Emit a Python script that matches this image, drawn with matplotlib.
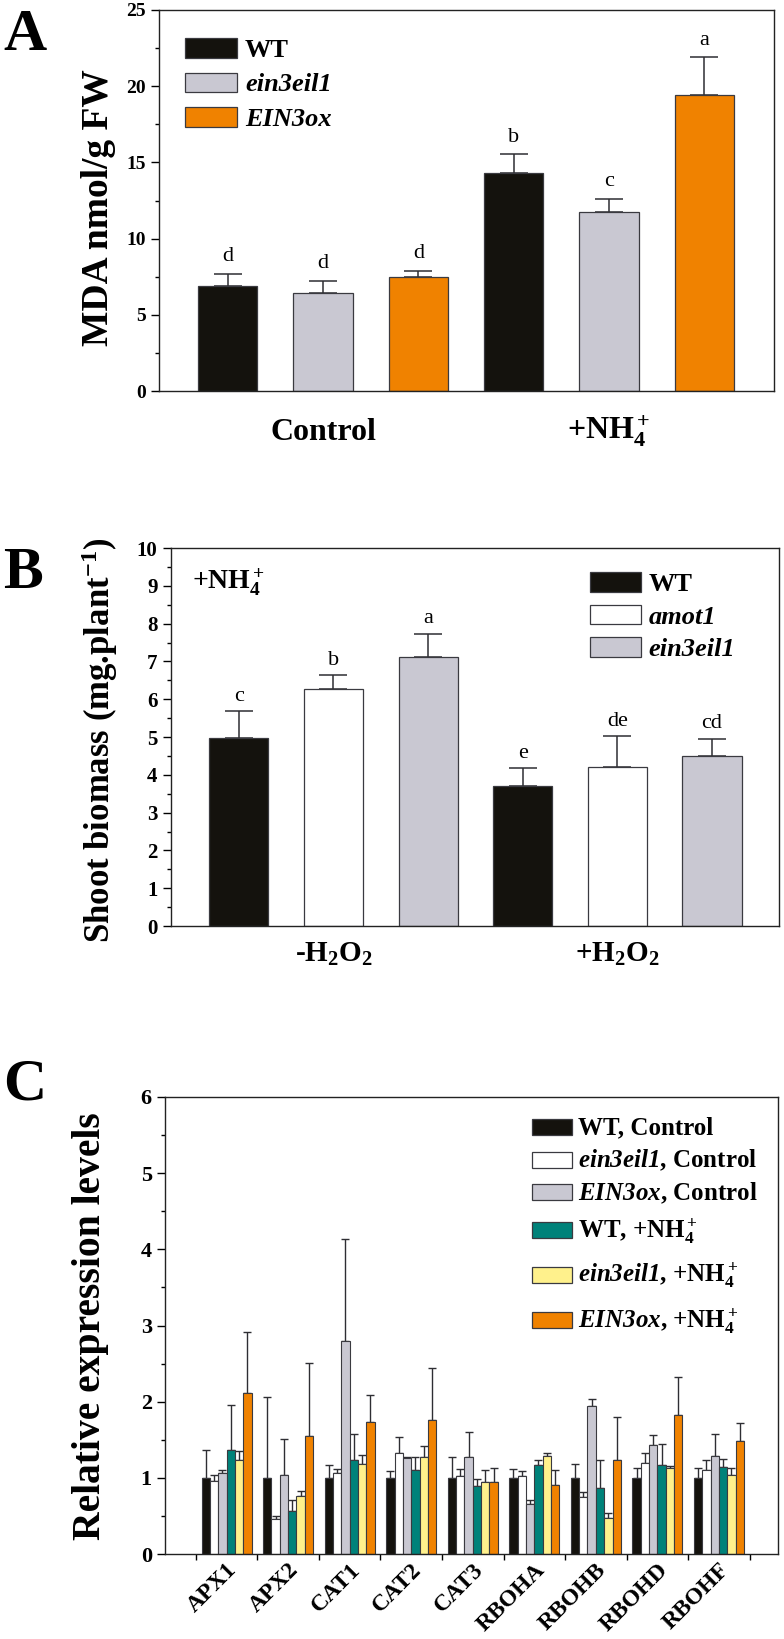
import numpy as np
import matplotlib
matplotlib.use("Agg")
import matplotlib.pyplot as plt
from matplotlib.patches import Patch, Rectangle
from matplotlib.ticker import MultipleLocator

plt.rcParams['font.family'] = ['Liberation Serif', 'DejaVu Serif']
plt.rcParams['font.weight'] = 'bold'
plt.rcParams['mathtext.fontset'] = 'custom'
plt.rcParams['mathtext.rm'] = 'Liberation Serif:bold'
plt.rcParams['mathtext.it'] = 'Liberation Serif:italic:bold'
plt.rcParams['mathtext.bf'] = 'Liberation Serif:bold'
plt.rcParams['mathtext.sf'] = 'Liberation Serif:italic:bold'

# ---------------- data ----------------
# Panel A: MDA content
mda_groups = ['Control', '+NH$_4^+$']
mda_genotypes = ['WT', 'ein3eil1', 'EIN3ox']
mda_mean = [[6.89, 6.45, 7.46], [14.32, 11.72, 19.40]]
mda_err = [[0.79, 0.77, 0.43], [1.21, 0.90, 2.50]]
mda_letters = [['d', 'd', 'd'], ['b', 'c', 'a']]

# Panel B: shoot biomass under +NH4+
bio_groups = ['-H$_2$O$_2$', '+H$_2$O$_2$']
bio_genotypes = ['WT', 'amot1', 'ein3eil1']
bio_mean = [[4.98, 6.27, 7.12], [3.71, 4.21, 4.50]]
bio_err = [[0.70, 0.36, 0.61], [0.46, 0.81, 0.46]]
bio_letters = [['c', 'b', 'a'], ['e', 'de', 'cd']]

# Panel C: relative expression
genes = ['APX1', 'APX2', 'CAT1', 'CAT2', 'CAT3', 'RBOHA', 'RBOHB', 'RBOHD', 'RBOHF']
series_labels = ['WT, Control', r'$\mathsf{ein3eil1}$, Control', r'$\mathsf{EIN3ox}$, Control',
                 'WT, +NH$_4^+$', r'$\mathsf{ein3eil1}$, +NH$_4^+$', r'$\mathsf{EIN3ox}$, +NH$_4^+$']
wt_ctrl      = [1.00, 1.00, 1.00, 1.00, 1.00, 1.00, 1.00, 1.00, 1.00]
ein_ctrl     = [0.96, 0.46, 1.06, 1.32, 1.02, 1.02, 0.75, 1.20, 1.10]
ox_ctrl      = [1.06, 1.04, 2.79, 1.26, 1.28, 0.66, 1.94, 1.43, 1.29]
wt_nh4       = [1.36, 0.57, 1.23, 1.10, 0.89, 1.17, 0.86, 1.17, 1.14]
ein_nh4      = [1.24, 0.76, 1.18, 1.27, 0.95, 1.29, 0.47, 1.13, 1.04]
ox_nh4       = [2.11, 1.55, 1.73, 1.76, 0.94, 0.91, 1.24, 1.83, 1.48]
wt_ctrl_err  = [0.36, 1.06, 0.17, 0.09, 0.28, 0.12, 0.18, 0.13, 0.13]
ein_ctrl_err = [0.08, 0.04, 0.05, 0.21, 0.09, 0.07, 0.07, 0.13, 0.14]
ox_ctrl_err  = [0.04, 0.47, 1.35, 0.02, 0.32, 0.05, 0.10, 0.13, 0.28]
wt_nh4_err   = [0.59, 0.14, 0.34, 0.17, 0.09, 0.07, 0.37, 0.28, 0.11]
ein_nh4_err  = [0.11, 0.07, 0.12, 0.15, 0.15, 0.04, 0.07, 0.02, 0.09]
ox_nh4_err   = [0.80, 0.96, 0.36, 0.68, 0.19, 0.19, 0.56, 0.49, 0.24]

# ---------------- style ----------------
BLACK = '#14120d'
GREY = '#c9c8d2'
ORANGE = '#f08200'
TEAL = '#00827a'
YELLOW = '#fff18c'
WHITE = '#ffffff'
EDGE = '#3a3a40'
ECOL = '#2e2e33'

W, H = 784, 1639
fig = plt.figure(figsize=(W / 100, H / 100), dpi=100)


def px_axes(left, right, top, bottom):
    return fig.add_axes([left / W, 1 - bottom / H, (right - left) / W, (bottom - top) / H])


def style_axes(ax, labelsize, major_len=6, minor_len=3):
    for s in ax.spines.values():
        s.set_linewidth(1.0)
        s.set_color('#222222')
    ax.tick_params(axis='y', which='major', direction='out', length=major_len, width=1,
                   labelsize=labelsize, right=False)
    ax.tick_params(axis='y', which='minor', direction='out', length=minor_len, width=1, right=False)
    for lab in ax.get_yticklabels():
        lab.set_fontweight('bold')


# ---------------- Panel A ----------------
axA = px_axes(159, 774, 10, 391)
colorsA = [BLACK, GREY, ORANGE]
valsA = np.array(mda_mean).ravel()
errsA = np.array(mda_err).ravel()
xA = np.arange(len(valsA))
cA = colorsA * len(mda_groups)
axA.bar(xA, valsA, width=0.624, color=cA, edgecolor=EDGE, linewidth=0.9, zorder=2)
axA.errorbar(xA, valsA, yerr=[np.zeros_like(errsA), errsA], fmt='none', ecolor=ECOL,
             elinewidth=1.1, capsize=10, capthick=1.1, zorder=1)
for x, v, e, t in zip(xA, valsA, errsA, np.array(mda_letters).ravel()):
    axA.annotate(t, (x, v + e), xytext=(0, 9), textcoords='offset points', ha='center',
                 va='baseline', fontsize=16, fontweight='normal')
axA.set_xlim(-0.721, 5.732)
axA.set_ylim(0, 25)
axA.yaxis.set_major_locator(MultipleLocator(5))
axA.yaxis.set_minor_locator(MultipleLocator(2.5))
nA = len(mda_genotypes)
axA.set_xticks([g * nA + (nA - 1) / 2 for g in range(len(mda_groups))], mda_groups)
axA.tick_params(axis='x', length=0, pad=35, labelsize=23)
for lab in axA.get_xticklabels():
    lab.set_va('baseline')
    lab.set_fontweight('bold')
style_axes(axA, 14, 6, 3)
legA = axA.legend(handles=[Patch(facecolor=c, edgecolor=EDGE, linewidth=0.9) for c in colorsA],
                  labels=mda_genotypes, loc='upper left', bbox_to_anchor=(185 / W, 1 - 38 / H),
                  bbox_transform=fig.transFigure, frameon=False, borderpad=0, borderaxespad=0,
                  handlelength=1.97, handleheight=0.76, handletextpad=0.3, labelspacing=0.40,
                  prop={'size': 19, 'weight': 'bold'})
for i, t in enumerate(legA.get_texts()):
    if i > 0:
        t.set_style('italic')
fig.text(99 / W, 1 - 208 / H, 'MDA nmol/g FW', rotation=90, ha='center', va='center',
         fontsize=27, fontweight='bold')
fig.text(3 / W, 1 - 50 / H, 'A', fontsize=43, fontweight='bold', va='baseline', ha='left')

# ---------------- Panel B ----------------
axB = px_axes(170.7, 779, 548, 926)
colorsB = [BLACK, WHITE, GREY]
valsB = np.array(bio_mean).ravel()
errsB = np.array(bio_err).ravel()
xB = np.arange(len(valsB))
cB = colorsB * len(bio_groups)
axB.bar(xB, valsB, width=0.624, color=cB, edgecolor=EDGE, linewidth=0.9, zorder=2)
axB.errorbar(xB, valsB, yerr=[np.zeros_like(errsB), errsB], fmt='none', ecolor=ECOL,
             elinewidth=1.1, capsize=10, capthick=1.1, zorder=1)
for x, v, e, t in zip(xB, valsB, errsB, np.array(bio_letters).ravel()):
    axB.annotate(t, (x, v + e), xytext=(0, 7.5), textcoords='offset points', ha='center',
                 va='baseline', fontsize=16, fontweight='normal')
axB.set_xlim(-0.719, 5.708)
axB.set_ylim(0, 10)
axB.yaxis.set_major_locator(MultipleLocator(1))
axB.yaxis.set_minor_locator(MultipleLocator(0.5))
nB = len(bio_genotypes)
axB.set_xticks([g * nB + (nB - 1) / 2 for g in range(len(bio_groups))], bio_groups)
axB.tick_params(axis='x', length=0, pad=26, labelsize=21)
for lab in axB.get_xticklabels():
    lab.set_va('baseline')
    lab.set_fontweight('bold')
style_axes(axB, 15, 6, 3)
legB = axB.legend(handles=[Patch(facecolor=c, edgecolor=EDGE, linewidth=0.9) for c in colorsB],
                  labels=bio_genotypes, loc='upper left', bbox_to_anchor=(590 / W, 1 - 572 / H),
                  bbox_transform=fig.transFigure, frameon=False, borderpad=0, borderaxespad=0,
                  handlelength=1.93, handleheight=0.76, handletextpad=0.3, labelspacing=0.33,
                  prop={'size': 19, 'weight': 'bold'})
for i, t in enumerate(legB.get_texts()):
    if i > 0:
        t.set_style('italic')
fig.text(192 / W, 1 - 590 / H, '+NH$_4^+$', fontsize=20, fontweight='bold', ha='left', va='baseline')
fig.text(100 / W, 1 - 740 / H, 'Shoot biomass (mg.plant$^{-1}$)', rotation=90, ha='center',
         va='center', fontsize=25, fontweight='bold')
fig.text(3 / W, 1 - 588 / H, 'B', fontsize=43, fontweight='bold', va='baseline', ha='left')

# ---------------- Panel C ----------------
axC = px_axes(165, 778, 1097, 1554)
series = [wt_ctrl, ein_ctrl, ox_ctrl, wt_nh4, ein_nh4, ox_nh4]
series_err = [wt_ctrl_err, ein_ctrl_err, ox_ctrl_err, wt_nh4_err, ein_nh4_err, ox_nh4_err]
colorsC = [BLACK, WHITE, GREY, TEAL, YELLOW, ORANGE]
xg = np.arange(len(genes))
bw = 0.1355
for k, (vals, errs, col) in enumerate(zip(series, series_err, colorsC)):
    xs = xg + (k - (len(series) - 1) / 2) * bw
    axC.bar(xs, vals, width=bw, color=col, edgecolor=EDGE, linewidth=0.8, zorder=2)
    axC.errorbar(xs, vals, yerr=[np.zeros(len(errs)), errs], fmt='none', ecolor=ECOL,
                 elinewidth=1.0, capsize=3, capthick=1.0, zorder=1)
axC.set_xlim(-1.0, 8.96)
axC.set_ylim(0, 6)
axC.yaxis.set_major_locator(MultipleLocator(1))
axC.yaxis.set_minor_locator(MultipleLocator(0.5))
axC.set_xticks(np.arange(len(genes) + 1) - 0.5)
axC.set_xticklabels([])
axC.set_xticks(xg, genes, minor=True)
axC.tick_params(axis='x', which='major', direction='out', length=4, width=1)
axC.tick_params(axis='x', which='minor', length=0, pad=4, labelsize=17)
for lab in axC.get_xticklabels(minor=True):
    lab.set_rotation(45)
    lab.set_ha('right')
    lab.set_va('top')
    lab.set_rotation_mode('anchor')
    lab.set_fontweight('bold')
style_axes(axC, 16, 6, 3)

# legend of panel C (rows spaced as in the original figure)
leg_rows_y = [1126.5, 1159.5, 1192, 1229.5, 1274.5, 1320]
for col, lab, cy in zip(colorsC, series_labels, leg_rows_y):
    fig.add_artist(Rectangle((531.7 / W, 1 - (cy + 8) / H), 40 / W, 16 / H,
                             transform=fig.transFigure, facecolor=col, edgecolor=EDGE,
                             linewidth=0.9))
    fig.text(578 / W, 1 - (cy + 8) / H, lab, fontsize=18, fontweight='bold',
             ha='left', va='baseline')

fig.text(91 / W, 1 - 1326 / H, 'Relative expression levels', rotation=90, ha='center',
         va='center', fontsize=28.5, fontweight='bold')
fig.text(3 / W, 1 - 1100 / H, 'C', fontsize=43, fontweight='bold', va='baseline', ha='left')

fig.savefig('out.png', dpi=100)
